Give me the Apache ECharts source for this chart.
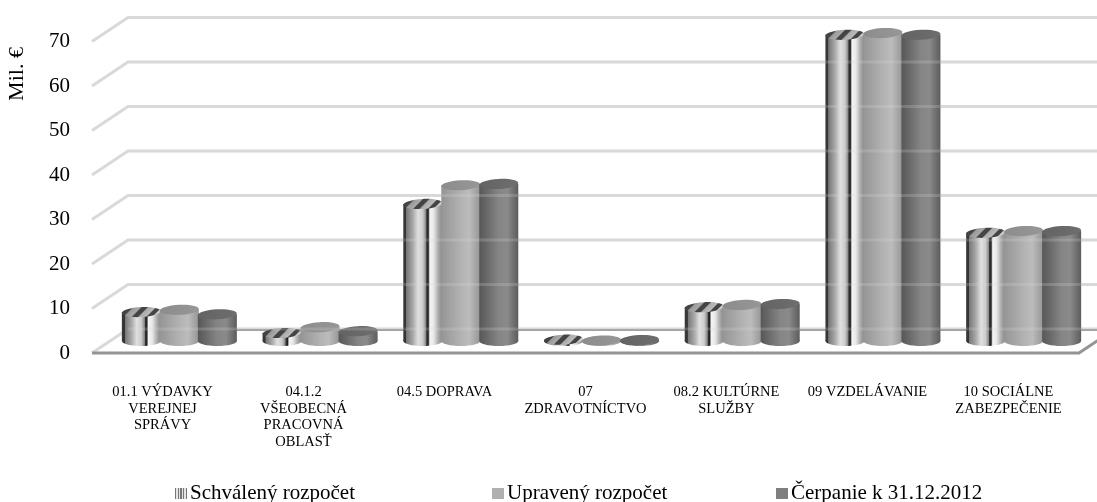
<!DOCTYPE html>
<html>
<head>
<meta charset="utf-8">
<title>Rozpočet</title>
<style>
html, body { margin: 0; padding: 0; background: #fff; }
#main { width: 1097px; height: 502px; }
</style>
</head>
<body>
<div id="main"></div>
<script src="https://cdn.jsdelivr.net/npm/echarts@6/dist/echarts.min.js"></script>
<script>
var categories = ['01.1 VÝDAVKY\nVEREJNEJ\nSPRÁVY', '04.1.2\nVŠEOBECNÁ\nPRACOVNÁ\nOBLASŤ', '04.5 DOPRAVA', '07\nZDRAVOTNÍCTVO', '08.2 KULTÚRNE\nSLUŽBY', '09 VZDELÁVANIE', '10 SOCIÁLNE\nZABEZPEČENIE'];
var schvaleny = [6.5, 1.8, 30.8, 0.3, 7.6, 68.8, 24.3];
var upraveny = [7, 3.1, 35, 0.1, 8.1, 69.2, 24.7];
var cerpanie = [6, 2.2, 35.3, 0.2, 8.3, 68.8, 24.7];
var ticks = [0, 10, 20, 30, 40, 50, 60, 70];

var FONT = '"Liberation Serif", "Times New Roman", serif';
var DEPTH_X = 36, DEPTH_Y = 24;
var BAR_W = 39, RY = 5;

function hGrad(stops) {
	var colorStops = [];
	for (var i = 0; i < stops.length; i++) {
		colorStops.push({ offset: stops[i][0], color: stops[i][1] });
	}
	return { type: 'linear', x: 0, y: 0, x2: 1, y2: 0, colorStops: colorStops };
}
function diagGrad(stops) {
	var g = hGrad(stops);
	g.y2 = 4.3;
	return g;
}

var styles = [{
	body: hGrad([[0, '#3a3a3a'], [0.07, '#333'], [0.08, '#777'], [0.25, '#aaa'], [0.38, '#e0e0e0'], [0.5, '#ccc'], [0.58, '#888'], [0.6, '#333'], [0.64, '#222'], [0.66, '#888'], [0.68, '#f5f5f5'], [0.78, '#e8e8e8'], [0.9, '#aaa'], [1, '#888']]),
	top: diagGrad([[0, '#444'], [0.12, '#444'], [0.14, '#999'], [0.22, '#aaa'], [0.24, '#444'], [0.3, '#444'], [0.32, '#aaa'], [0.4, '#bbb'], [0.42, '#444'], [0.47, '#444'], [0.49, '#ccc'], [1, '#ccc']]),
	offset: -38
}, {
	body: hGrad([[0, '#959595'], [0.5, '#b2b2b2'], [0.72, '#bcbcbc'], [1, '#959595']]),
	top: hGrad([[0, '#8c8c8c'], [1, '#979797']]),
	offset: 0
}, {
	body: hGrad([[0, '#575757'], [0.5, '#858585'], [0.72, '#8a8a8a'], [1, '#5c5c5c']]),
	top: hGrad([[0, '#636363'], [1, '#6e6e6e']]),
	offset: 38
}];

function barRenderer(idx) {
	var st = styles[idx];
	return function (params, api) {
		var top = api.coord([api.value(0), api.value(1)]);
		var base = api.coord([api.value(0), 0]);
		var cx = top[0] + st.offset;
		return {
			type: 'group',
			children: [
				{ type: 'ellipse', shape: { cx: cx, cy: base[1], rx: BAR_W / 2, ry: RY }, style: { fill: st.body } },
				{ type: 'rect', shape: { x: cx - BAR_W / 2, y: top[1], width: BAR_W, height: base[1] - top[1] }, style: { fill: st.body } },
				{ type: 'ellipse', shape: { cx: cx, cy: top[1], rx: BAR_W / 2, ry: RY }, originX: cx, originY: top[1], rotation: 0.05, style: { fill: st.top } }
			]
		};
	};
}

function wallRenderer(params, api) {
	var v = api.value(0);
	var p = api.coord([0, v]);
	var sys = params.coordSys;
	var x0 = sys.x, x1 = sys.x + sys.width;
	var children = [{
		type: 'polyline',
		shape: { points: [[x0, p[1]], [x0 + DEPTH_X, p[1] - DEPTH_Y], [x1 + DEPTH_X, p[1] - DEPTH_Y]] },
		style: { stroke: '#d9d9d9', lineWidth: 3, fill: null }
	}];
	if (v === 0) {
		children.push({
			type: 'line',
			shape: { x1: x0 + DEPTH_X, y1: p[1] - DEPTH_Y + 1, x2: x1 + DEPTH_X, y2: p[1] - DEPTH_Y + 1 },
			style: { stroke: '#9c9c9c', lineWidth: 2 }
		});
		children.push({
			type: 'polyline',
			shape: { points: [[x0, p[1]], [x1, p[1]], [x1 + DEPTH_X, p[1] - DEPTH_Y]] },
			style: { stroke: '#949494', lineWidth: 3, fill: null }
		});
	}
	return { type: 'group', children: children };
}

// the bars are slightly see-through in the original, so the wall lines show faintly
function ghostRenderer(params, api) {
	var v = api.value(0);
	var p = api.coord([0, v]);
	var sys = params.coordSys;
	return {
		type: 'line',
		shape: { x1: sys.x + DEPTH_X, y1: p[1] - DEPTH_Y, x2: sys.x + sys.width + DEPTH_X, y2: p[1] - DEPTH_Y },
		style: { stroke: '#d9d9d9', lineWidth: 3, opacity: 0.22 }
	};
}

function legendItem(name, left) {
	return {
		data: [name],
		left: left,
		top: 478,
		itemWidth: 12,
		itemHeight: 11,
		icon: 'rect',
		selectedMode: false,
		textStyle: { fontFamily: FONT, fontSize: 21, color: '#000', padding: [0, 0, 0, -2] }
	};
}

var stripes = [];
for (var s = 0; s < 9; s++) {
	stripes.push([s / 9, s % 2 ? '#e4e4e4' : '#777'], [(s + 1) / 9, s % 2 ? '#e4e4e4' : '#777']);
}
var legendColors = [hGrad(stripes), '#b0b0b0', '#7f7f7f'];

var seriesNames = ['Schválený rozpočet', 'Upravený rozpočet', 'Čerpanie k 31.12.2012'];
var seriesValues = [schvaleny, upraveny, cerpanie];
var tickData = ticks.map(function (t) { return [t]; });
var series = [{
	type: 'custom',
	silent: true,
	z: 1,
	clip: false,
	renderItem: wallRenderer,
	data: tickData,
	encode: { y: 0 }
}];
for (var i = 0; i < 3; i++) {
	series.push({
		name: seriesNames[i],
		type: 'custom',
		xAxisIndex: 1,
		yAxisIndex: 1,
		z: 2 + i,
		clip: false,
		itemStyle: { color: legendColors[i] },
		renderItem: barRenderer(i),
		encode: { x: 0, y: 1 },
		data: seriesValues[i].map(function (v, j) { return [j, v]; })
	});
}
series.push({
	type: 'custom',
	silent: true,
	z: 9,
	clip: false,
	renderItem: ghostRenderer,
	data: tickData,
	encode: { y: 0 }
});

var myChart = echarts.init(document.getElementById('main'), null, { renderer: 'canvas' });
myChart.setOption({
	animation: false,
	backgroundColor: '#fff',
	textStyle: { fontFamily: FONT },
	grid: [
		{ left: 92, width: 987, top: 41.5, height: 311.5 },
		{ left: 109, width: 985, top: 29.5, height: 311.5 }
	],
	xAxis: [{
		type: 'category',
		gridIndex: 0,
		data: categories,
		axisLine: { show: false },
		axisTick: { show: false },
		axisLabel: { interval: 0, margin: 31, fontFamily: FONT, fontSize: 14.5, lineHeight: 16.5, color: '#000', verticalAlign: 'top' }
	}, {
		type: 'category',
		gridIndex: 1,
		data: categories,
		show: false
	}],
	yAxis: [{
		type: 'value',
		gridIndex: 0,
		min: 0,
		max: 70,
		interval: 10,
		axisLine: { show: false },
		axisTick: { show: false },
		splitLine: { show: false },
		axisLabel: { margin: 22, fontFamily: FONT, fontSize: 21, color: '#000', padding: [5, 0, 0, 0] }
	}, {
		type: 'value',
		gridIndex: 1,
		min: 0,
		max: 70,
		interval: 10,
		show: false
	}],
	legend: [
		legendItem(seriesNames[0], 170),
		legendItem(seriesNames[1], 487),
		legendItem(seriesNames[2], 771)
	],
	graphic: [{
		type: 'text',
		x: 17.5,
		y: 74,
		rotation: Math.PI / 2,
		style: { text: 'Mil. €', fontFamily: FONT, fontSize: 22, fill: '#000', align: 'center', verticalAlign: 'middle' }
	}],
	series: series
});
</script>
</body>
</html>
